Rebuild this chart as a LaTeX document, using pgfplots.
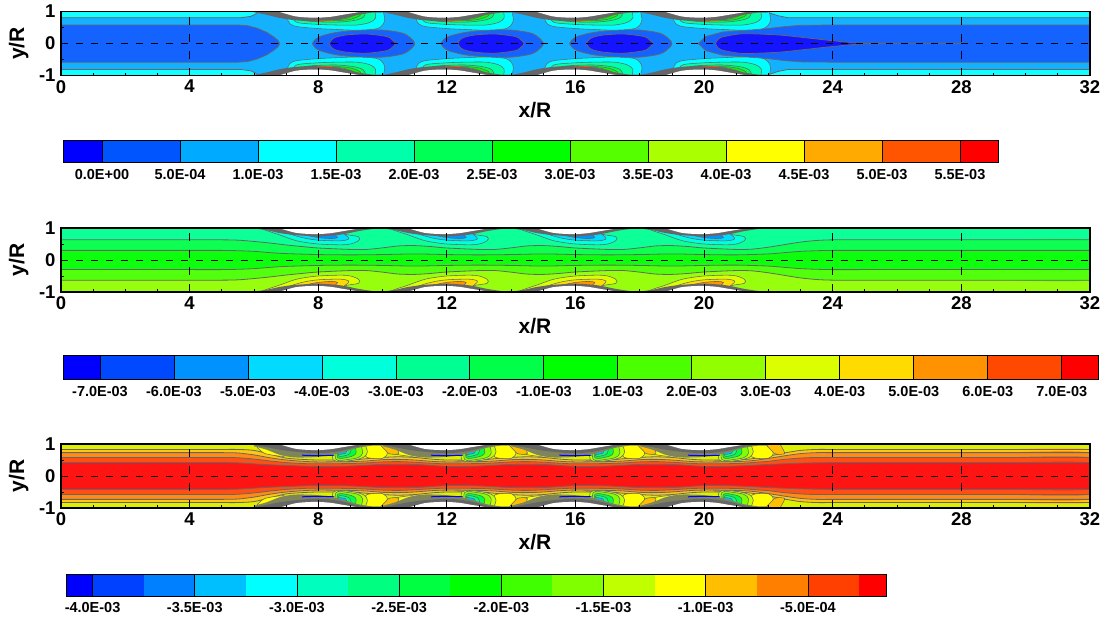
\documentclass[border=0pt]{standalone}
\usepackage{fontspec}
\setmainfont{Liberation Sans}
\usepackage{pgfplots}
\usepackage{pgfplotstable}
\pgfplotsset{compat=1.18}
\definecolor{lc}{HTML}{666666}
\definecolor{hatch}{HTML}{80845C}
\newcommand\hc[1]{\definecolor{c#1}{HTML}{#1}}
\hc{0000FF}\hc{0055FF}\hc{00AAFF}\hc{00FFFF}\hc{00FFAA}\hc{00FF55}\hc{00FF00}\hc{55FF00}\hc{AAFF00}\hc{FFFF00}\hc{FFAA00}\hc{FF5500}\hc{FF0000}
\hc{0049FF}\hc{0092FF}\hc{00DBFF}\hc{00FFDB}\hc{00FF92}\hc{00FF49}\hc{49FF00}\hc{92FF00}\hc{DBFF00}\hc{FFDB00}\hc{FF9200}\hc{FF4900}
\hc{0040FF}\hc{0080FF}\hc{00BFFF}\hc{00FFBF}\hc{00FF80}\hc{00FF40}\hc{40FF00}\hc{80FF00}\hc{BFFF00}\hc{FFBF00}\hc{FF8000}\hc{FF4000}
\hc{DCF000}
% ---------- geometry shared by all panels
\pgfplotstableread[row sep=\\]{x y\\6.7 1.02\\7 .93\\7.3 .85\\7.6 .82\\8 .81\\8.4 .84\\8.7 .89\\9 .94\\9.3 .99\\9.5 1.02\\9.5 1.2\\6.7 1.2\\}\wall
\pgfplotstableread[row sep=\\]{x y\\6 .98\\6.4 .90\\6.81 .80\\7.28 .73\\8 .69\\8.68 .76\\9.24 .90\\9.7 .97\\10 .98\\10 1.2\\6 1.2\\}\bandA
\pgfplotstableread[row sep=\\]{x y\\6 .985\\6.4 .93\\6.81 .84\\7.28 .78\\8 .74\\8.68 .79\\9.24 .90\\9.7 .97\\10 .985\\10 1.2\\6 1.2\\}\bandB
\pgfplotstableread[row sep=\\]{x y\\6 .93\\6.4 .82\\6.81 .66\\7.28 .58\\8 .60\\8.68 .72\\9.24 .88\\9.7 .95\\10 .96\\10 1.2\\6 1.2\\}\bandCa
\pgfplotstableread[row sep=\\]{x y\\6 .97\\6.4 .90\\6.81 .82\\7.28 .76\\8 .71\\8.68 .78\\9.24 .92\\9.7 .98\\10 .99\\10 1.2\\6 1.2\\}\bandCb
% ---------- panel 1
\pgfplotstableread[row sep=\\]{x y\\0 .81\\5.6 .81\\5.9 .85\\6.05 .92\\6.2 1.05\\0 1.05\\}\cyL
\pgfplotstableread[row sep=\\]{x y\\21.85 1.05\\22.0 .97\\22.3 .87\\22.6 .81\\32 .81\\32 1.05\\}\cyR
\pgfplotstableread[row sep=\\]{x y\\0 .58\\5.5 .58\\5.8 .56\\6.1 .48\\6.4 .35\\6.6 .22\\6.75 .1\\6.8 0\\6.75 -.1\\6.6 -.22\\6.4 -.35\\6.1 -.48\\5.8 -.56\\5.5 -.58\\0 -.58\\}\coreL
\pgfplotstableread[row sep=\\]{x y\\19.82 0\\20.05 .22\\20.57 .36\\21.3 .42\\22 .47\\22.5 .53\\23 .57\\24 .58\\32 .58\\32 -.58\\24 -.58\\23 -.57\\22.5 -.53\\22 -.47\\21.3 -.42\\20.57 -.36\\20.05 -.22\\19.82 0\\}\coreR
\pgfplotstableread[row sep=\\]{x y\\7.82 0\\7.88 .1\\8.05 .22\\8.57 .35\\9.3 .42\\10.02 .42\\10.64 .32\\10.92 .13\\11 0\\10.92 -.13\\10.64 -.32\\10.02 -.42\\9.3 -.42\\8.57 -.35\\8.05 -.22\\7.88 -.1\\7.82 0\\}\islO
\pgfplotstableread[row sep=\\]{x y\\8.34 0\\8.4 .1\\8.52 .19\\8.88 .27\\9.5 .30\\10.13 .22\\10.32 .1\\10.4 0\\10.32 -.1\\10.13 -.22\\9.5 -.30\\8.88 -.27\\8.52 -.19\\8.4 -.1\\8.34 0\\}\islI
\pgfplotstableread[row sep=\\]{x y\\20.35 0\\20.41 .1\\20.52 .19\\20.88 .27\\21.3 .31\\22.3 .27\\23 .2\\24 .09\\24.8 .02\\26 0\\24.8 -.02\\24 -.09\\23 -.2\\22.3 -.27\\21.3 -.31\\20.88 -.27\\20.52 -.19\\20.41 -.1\\20.35 0\\}\tail
\pgfplotstableread[row sep=\\]{x y\\7.04 1.1\\7.04 .80\\7.12 .62\\7.35 .53\\8 .47\\8.6 .44\\9.2 .42\\9.8 .46\\10 .58\\10.07 .75\\10.03 .97\\10.03 1.1\\}\Lone
\pgfplotstableread[row sep=\\]{x y\\7.2 1.05\\7.2 .85\\7.35 .66\\8 .6\\8.6 .58\\9.2 .58\\9.6 .66\\9.78 .8\\9.75 1.05\\}\Ltwo
\pgfplotstableread[row sep=\\]{x y\\7.4 1.05\\7.4 .82\\7.6 .72\\8 .68\\8.6 .67\\9.1 .72\\9.4 .82\\9.5 1.05\\}\Lthree
\pgfplotstableread[row sep=\\]{x y\\7.7 1.05\\7.7 .78\\8 .73\\8.6 .72\\9 .76\\9.3 .88\\9.35 1.05\\}\Lfour
\pgfplotstableread[row sep=\\]{x y\\7.9 1.05\\7.9 .78\\8.6 .75\\8.9 .80\\9.15 .90\\9.25 1.05\\}\Lfive
\pgfplotstableread[row sep=\\]{x y\\8.1 1.05\\8.1 .80\\8.6 .78\\8.85 .84\\9.05 .94\\9.1 1.05\\}\Lsix
\pgfplotstableread[row sep=\\]{x y\\8.2 1.05\\8.2 .82\\8.55 .81\\8.78 .87\\8.9 .97\\8.95 1.05\\}\Lseven
\pgfplotstableread[row sep=\\]{x y\\7.95 .70\\8.45 .72\\}\redbit
% ---------- panel 2
\pgfplotstableread[row sep=\\]{x y\\0 .63\\2 .63\\4 .63\\5 .63\\5.5 .62\\6 .58\\6.5 .53\\7 .47\\7.5 .42\\8 .375\\9 .33\\9.5 .33\\10 .38\\10.5 .44\\11 .45\\11.5 .42\\12 .375\\13 .33\\13.5 .33\\14 .38\\14.5 .44\\15 .45\\15.5 .42\\16 .375\\17 .33\\17.5 .33\\18 .38\\18.5 .44\\19 .45\\19.5 .42\\20 .375\\21 .33\\21.5 .34\\22 .40\\22.5 .48\\23 .56\\23.5 .61\\24 .63\\25 .63\\27 .63\\29 .63\\32 .63\\32 -.02\\0 -.02\\}\midA
\pgfplotstableread[row sep=\\]{x y\\0 .30\\2 .30\\4 .30\\5 .30\\5.5 .29\\6 .27\\6.5 .23\\7 .20\\8 .17\\9 .16\\10 .17\\11 .19\\12 .17\\13 .16\\14 .17\\15 .19\\16 .17\\17 .16\\18 .17\\19 .19\\20 .17\\21 .16\\22 .19\\22.5 .23\\23 .27\\23.5 .29\\24 .30\\25 .30\\27 .30\\29 .30\\32 .30\\32 -.02\\0 -.02\\}\midB
\pgfplotstableread[row sep=\\]{x y\\6.24 1.1\\6.24 .98\\6.81 .78\\7.33 .60\\8 .5\\8.88 .48\\9.25 .6\\9.25 .73\\8.8 .82\\8.6 1.1\\}\Tone
\pgfplotstableread[row sep=\\]{x y\\6.9 1.1\\6.9 .9\\7.5 .70\\8 .62\\8.7 .60\\8.95 .66\\8.85 .78\\8.4 1.1\\}\Ttwo
\pgfplotstableread[row sep=\\]{x y\\7.1 1.1\\7.1 .9\\7.6 .78\\8 .70\\8.4 .67\\8.6 .70\\8.5 .82\\8.3 1.1\\}\Tthree
% ---------- panel 3
\pgfplotstableread[row sep=\\]{x y\\0 .83\\2 .83\\4 .83\\5 .83\\5.5 .83\\6 .80\\6.5 .68\\7 .56\\7.5 .52\\8 .50\\9 .50\\9.5 .54\\10 .58\\10.5 .60\\11 .58\\11.5 .53\\12 .50\\13 .50\\13.5 .54\\14 .58\\14.5 .60\\15 .58\\15.5 .53\\16 .50\\17 .50\\17.5 .54\\18 .58\\18.5 .60\\19 .58\\19.5 .53\\20 .50\\21 .50\\21.5 .54\\22 .62\\22.5 .72\\23 .80\\23.5 .83\\24 .83\\25 .83\\27 .83\\29 .83\\32 .83\\32 -.02\\0 -.02\\}\curF
\pgfplotstableread[row sep=\\]{x y\\0 .73\\2 .73\\4 .73\\5 .73\\5.5 .72\\6 .66\\6.5 .57\\7 .50\\7.5 .46\\8 .44\\9 .45\\9.5 .47\\10 .51\\10.5 .52\\11 .50\\11.5 .46\\12 .44\\13 .45\\13.5 .47\\14 .51\\14.5 .52\\15 .50\\15.5 .46\\16 .44\\17 .45\\17.5 .47\\18 .51\\18.5 .52\\19 .50\\19.5 .46\\20 .44\\21 .45\\21.5 .48\\22 .55\\22.5 .63\\23 .70\\23.5 .73\\24 .73\\25 .73\\27 .73\\29 .73\\32 .73\\32 -.02\\0 -.02\\}\curE
\pgfplotstableread[row sep=\\]{x y\\0 .58\\2 .58\\4 .58\\5 .58\\5.5 .57\\6 .53\\6.5 .47\\7 .42\\7.5 .39\\8 .38\\9 .39\\9.5 .41\\10 .44\\10.5 .45\\11 .43\\11.5 .40\\12 .38\\13 .39\\13.5 .41\\14 .44\\14.5 .45\\15 .43\\15.5 .40\\16 .38\\17 .39\\17.5 .41\\18 .44\\18.5 .45\\19 .43\\19.5 .40\\20 .38\\21 .39\\21.5 .42\\22 .46\\22.5 .52\\23 .56\\23.5 .58\\24 .58\\25 .58\\27 .58\\29 .58\\32 .58\\32 -.02\\0 -.02\\}\curD
\pgfplotstableread[row sep=\\]{x y\\0 .42\\2 .42\\4 .42\\5 .42\\5.5 .41\\6 .38\\6.5 .35\\7 .33\\7.5 .31\\8 .30\\9 .31\\10 .36\\11 .36\\12 .30\\13 .31\\14 .36\\15 .36\\16 .30\\17 .31\\18 .36\\19 .36\\20 .30\\21 .31\\22 .36\\23 .40\\24 .42\\25 .42\\27 .42\\29 .42\\32 .42\\32 -.02\\0 -.02\\}\curC
\pgfplotstableread[row sep=\\]{x y\\9.35 1.1\\9.45 .65\\9.6 .56\\10 .55\\10.15 .72\\9.95 .95\\9.9 1.1\\}\secYA
\pgfplotstableread[row sep=\\]{x y\\9.8 1.1\\9.95 .92\\10.2 .70\\10.5 .70\\10.4 .93\\10.3 1.1\\}\secOA
\pgfplotstableread[row sep=\\]{x y\\10.1 .9\\10.35 .70\\10.95 .62\\10.8 .85\\10.4 1\\10.1 .9\\}\secYB
\pgfplotstableread[row sep=\\]{x y\\8.47 1.1\\8.47 .5\\8.99 .48\\9.4 .58\\9.53 .76\\9.4 1.1\\}\Sone
\pgfplotstableread[row sep=\\]{x y\\8.55 1.1\\8.55 .52\\8.95 .52\\9.25 .58\\9.38 .72\\9.3 1.1\\}\Stwo
\pgfplotstableread[row sep=\\]{x y\\8.6 1.1\\8.6 .58\\8.9 .58\\9.1 .64\\9.18 .75\\9.1 1.1\\}\Sthree
\pgfplotstableread[row sep=\\]{x y\\8.62 1.1\\8.62 .64\\8.85 .64\\8.98 .70\\9.02 .8\\9 1.1\\}\Sfour
\pgfplotstableread[row sep=\\]{x y\\8.6 1.1\\8.6 .70\\8.8 .70\\8.88 .76\\8.9 1.1\\}\Sfive
\pgfplotstableread[row sep=\\]{x y\\7.5 .65\\7.8 .64\\8 .64\\8.25 .64\\8.5 .65\\}\bluebit
% ---------- helpers
\newcommand\ptop[3]{\pgfplotsinvokeforeach{#1}{\addplot[#3] table[x expr=\thisrow{x}+##1,y=y]{#2};}}
\newcommand\pbot[3]{\pgfplotsinvokeforeach{#1}{\addplot[#3] table[x expr=\thisrow{x}+##1,y expr=-\thisrow{y}]{#2};}}
\newcommand\both[3]{\ptop{#1}{#2}{#3}\pbot{#1}{#2}{#3}}
\newcommand\zone[3]{%
 \addplot[draw=none,fill=#2,smooth] table[x=x,y=y]{#1};
 \addplot[draw=none,fill=#3,smooth] table[x=x,y expr=-\thisrow{y}]{#1};
 \addplot[cline,smooth,restrict y to domain=0:2] table[x=x,y=y]{#1};
 \addplot[cline,smooth,restrict y to domain=-2:0] table[x=x,y expr=-\thisrow{y}]{#1};}
\newcommand\bx[3]{\addplot[fill=c#3,draw=none] coordinates {(#1,0)(#2,0)(#2,1)(#1,1)};}
\newcommand\finish{%
 \both{0,4,8,12}{\wall}{fill=white,draw=none,smooth}
 \addplot[dash pattern=on 7pt off 8pt,line width=.8pt,black] coordinates {(0,0)(32,0)};}
\pgfplotsset{
 cline/.style={draw=lc,line width=.8pt},
 lb/.style={fill=#1,draw=lc,line width=.55pt,smooth},
 fl/.style={fill=#1!92!white,draw=lc,line width=.8pt},
 panel/.style={
  scale only axis,width=1029pt,height=64pt,
  xmin=0,xmax=32,ymin=-1,ymax=1,
  xtick={0,4,...,32},ytick={-1,0,1},
  minor x tick num=3,minor y tick num=1,
  xtick pos=bottom,ytick pos=left,tick align=inside,
  major tick length=5pt,minor tick length=3pt,
  every tick/.style={black,line width=.8pt},
  xmajorgrids,
  major grid style={black,line width=.8pt,dash pattern=on 8pt off 9pt},
  axis on top,axis line style={line width=1.4pt,black},
  /pgf/number format/assume math mode=true,
  tick label style={font=\fontsize{18.5}{18.5}\selectfont\bfseries},
  xticklabel style={yshift=-1pt},
  yticklabel style={xshift=-2pt},
  xlabel={x/R},ylabel={y/R},
  label style={font=\fontsize{21}{21}\selectfont\bfseries},
  xlabel style={at={(axis description cs:0.4606,0)},anchor=north,yshift=-23pt},
  ylabel style={at={(axis description cs:0,0.5)},anchor=south,yshift=29pt},
 },
 cbar/.style={
  scale only axis,ymin=0,ymax=1,ytick=\empty,
  xtick pos=bottom,major tick length=0pt,
  xmajorgrids,major grid style={black,line width=.8pt},
  axis on top,axis line style={line width=1pt,black},
  tick label style={font=\fontsize{14.5}{14.5}\selectfont\bfseries},
  xticklabel style={yshift=-3pt},
 },
}
\begin{document}
\begin{tikzpicture}
\path[use as bounding box] (0,0) rectangle (1109pt,622pt);
% ================= panel 1
\begin{axis}[panel,at={(61pt,546.4pt)}]
\addplot[fill=c00AAFF!92!white,draw=none] coordinates {(0,-1.2)(32,-1.2)(32,1.2)(0,1.2)};
\both{0}{\cyL}{fl=c00FFFF}
\both{0}{\cyR}{fl=c00FFFF}
\addplot[fl=c0055FF] table[x=x,y=y]{\coreL};
\addplot[fl=c0055FF] table[x=x,y=y]{\coreR};
\ptop{0,4,8}{\islO}{fl=c0055FF,smooth}
\ptop{0,4,8}{\islI}{fl=c0000FF,smooth}
\addplot[fl=c0000FF,smooth] table[x=x,y=y]{\tail};
\addplot[cline] coordinates {(26,0)(28,0)};
\both{0,4,8,12}{\Lone}{lb=c00FFFF}
\both{0,4,8,12}{\Ltwo}{lb=c00FFAA}
\both{0,4,8,12}{\Lthree}{lb=c00FF55}
\both{0,4,8,12}{\Lfour}{lb=c00FF00}
\both{0,4,8,12}{\Lfive}{lb=c55FF00}
\both{0,4,8,12}{\Lsix}{lb=cAAFF00}
\both{0,4,8,12}{\Lseven}{lb=cFFFF00}
\both{0,4,8,12}{\bandA}{fill=lc,draw=none,smooth}
\both{0,4,8,12}{\redbit}{draw=cFF5500,line width=.7pt}
\finish
\end{axis}
% ================= panel 2
\begin{axis}[panel,at={(61pt,330pt)}]
\addplot[fill=c00FF92!95!white,draw=none] coordinates {(0,0)(32,0)(32,1.2)(0,1.2)};
\addplot[fill=c92FF00!95!white,draw=none] coordinates {(0,-1.2)(32,-1.2)(32,0)(0,0)};
\zone{\midA}{c00FF49!95!white}{c49FF00!95!white}
\zone{\midB}{c00FF00!95!white}{c00FF00!95!white}
\ptop{0,4,8,12}{\Tone}{lb=c00FFDB}
\ptop{0,4,8,12}{\Ttwo}{lb=c00DBFF}
\ptop{0,4,8,12}{\Tthree}{lb=c0092FF}
\pbot{0,4,8,12}{\Tone}{lb=cDBFF00}
\pbot{0,4,8,12}{\Ttwo}{lb=cFFDB00}
\pbot{0,4,8,12}{\Tthree}{lb=cFF9200}
\both{0,4,8,12}{\bandB}{fill=lc,draw=none,smooth}
\finish
\end{axis}
% ================= panel 3
\begin{axis}[panel,at={(61pt,114pt)}]
\addplot[fill=cDCF000,draw=none] coordinates {(0,-1.2)(32,-1.2)(32,1.2)(0,1.2)};
\zone{\curF}{cFFBF00!92!white}{cFFBF00!92!white}
\both{-4,0,4,8}{\secYB}{lb=cFFFF00}
\both{0,4,8,12}{\secOA}{lb=cFFBF00}
\both{0,4,8,12}{\secYA}{lb=cFFFF00}
\zone{\curE}{cFF8000!92!white}{cFF8000!92!white}
\zone{\curD}{cFF4000!92!white}{cFF4000!92!white}
\zone{\curC}{cFF0000!92!white}{cFF0000!92!white}
\both{0,4,8,12}{\Sone}{lb=cBFFF00}
\both{0,4,8,12}{\Stwo}{lb=c80FF00}
\both{0,4,8,12}{\Sthree}{lb=c00FF40}
\both{0,4,8,12}{\Sfour}{lb=c00FF80}
\both{0,4,8,12}{\Sfive}{lb=c00BFFF}
\both{0,4,8,12}{\bandCa}{fill=hatch,draw=none,smooth}
\both{0,4,8,12}{\bandCb}{fill=lc,draw=none,smooth}
\both{0,4,8,12}{\bluebit}{draw=blue,line width=1pt}
\finish
\end{axis}
% ================= colour bars
\begin{axis}[cbar,at={(63pt,459pt)},width=935pt,height=22pt,xmin=-0.25,xmax=5.744,
 xtick={0,0.5,...,5.5},xticklabels={0.0E+00,5.0E-04,1.0E-03,1.5E-03,2.0E-03,2.5E-03,3.0E-03,3.5E-03,4.0E-03,4.5E-03,5.0E-03,5.5E-03}]
\bx{-.25}{0}{0000FF}\bx{0}{.5}{0055FF}\bx{.5}{1}{00AAFF}\bx{1}{1.5}{00FFFF}\bx{1.5}{2}{00FFAA}\bx{2}{2.5}{00FF55}\bx{2.5}{3}{00FF00}\bx{3}{3.5}{55FF00}\bx{3.5}{4}{AAFF00}\bx{4}{4.5}{FFFF00}\bx{4.5}{5}{FFAA00}\bx{5}{5.5}{FF5500}\bx{5.5}{5.744}{FF0000}
\end{axis}
\begin{axis}[cbar,at={(63pt,242pt)},width=1035pt,height=24pt,xmin=-.5,xmax=13.49,
 xtick={0,1,...,13},xticklabels={-7.0E-03,-6.0E-03,-5.0E-03,-4.0E-03,-3.0E-03,-2.0E-03,-1.0E-03,1.0E-03,2.0E-03,3.0E-03,4.0E-03,5.0E-03,6.0E-03,7.0E-03}]
\bx{-.5}{0}{0000FF}\bx{0}{1}{0049FF}\bx{1}{2}{0092FF}\bx{2}{3}{00DBFF}\bx{3}{4}{00FFDB}\bx{4}{5}{00FF92}\bx{5}{6}{00FF49}\bx{6}{7}{00FF00}\bx{7}{8}{49FF00}\bx{8}{9}{92FF00}\bx{9}{10}{DBFF00}\bx{10}{11}{FFDB00}\bx{11}{12}{FF9200}\bx{12}{13}{FF4900}\bx{13}{13.49}{FF0000}
\end{axis}
\begin{axis}[cbar,at={(66pt,26pt)},width=820pt,height=22pt,xmin=-4.13,xmax=-.118,
 xtick={-4,-3.5,...,-.5},xticklabels={-4.0E-03,-3.5E-03,-3.0E-03,-2.5E-03,-2.0E-03,-1.5E-03,-1.0E-03,-5.0E-04}]
\bx{-4.13}{-4}{0000FF}\bx{-4}{-3.75}{0040FF}\bx{-3.75}{-3.5}{0080FF}\bx{-3.5}{-3.25}{00BFFF}\bx{-3.25}{-3}{00FFFF}\bx{-3}{-2.75}{00FFBF}\bx{-2.75}{-2.5}{00FF80}\bx{-2.5}{-2.25}{00FF40}\bx{-2.25}{-2}{00FF00}\bx{-2}{-1.75}{40FF00}\bx{-1.75}{-1.5}{80FF00}\bx{-1.5}{-1.25}{BFFF00}\bx{-1.25}{-1}{FFFF00}\bx{-1}{-.75}{FFBF00}\bx{-.75}{-.5}{FF8000}\bx{-.5}{-.25}{FF4000}\bx{-.25}{-.118}{FF0000}
\end{axis}
\end{tikzpicture}
\end{document}
